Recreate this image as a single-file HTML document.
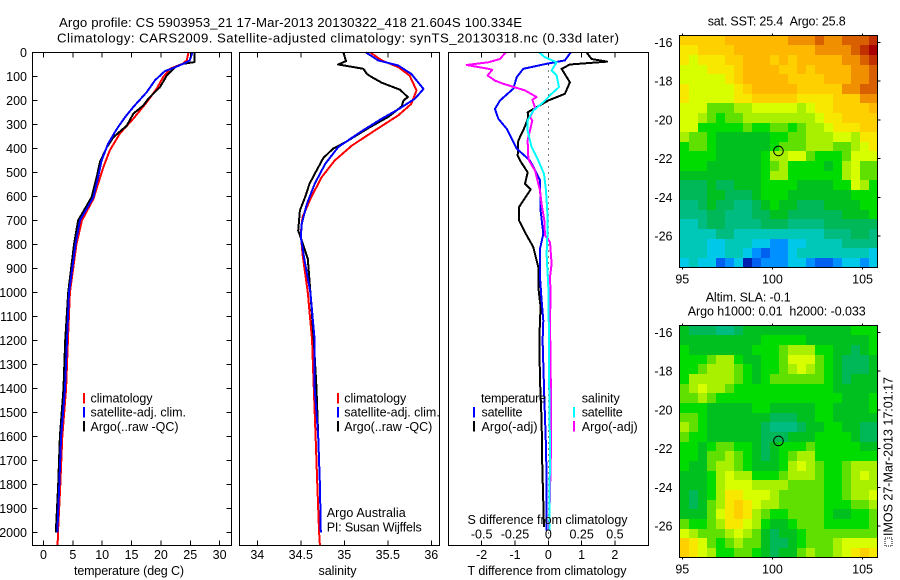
<!DOCTYPE html>
<html lang="en">
<head>
<meta charset="utf-8">
<title>Argo profile chart</title>
<style>
html,body{margin:0;padding:0;background:#fff;}
svg{display:block;}
text{font-family:"Liberation Sans",sans-serif;font-size:12.5px;fill:#000;}
.title{font-size:13.2px;}
rect{shape-rendering:crispEdges;}
</style>
</head>
<body>
<svg id="chart" width="900" height="580" viewBox="0 0 900 580" xmlns="http://www.w3.org/2000/svg">
  <rect x="0" y="0" width="900" height="580" fill="#fff"/>
  <g id="maps"></g>
  <g id="series"></g>
  <g id="axes"></g>

  <text class="title" x="59" y="27" textLength="463">Argo profile: CS 5903953_21 17-Mar-2013 20130322_418 21.604S 100.334E</text>
  <text class="title" x="57" y="42.5" textLength="562">Climatology: CARS2009. Satellite-adjusted climatology: synTS_20130318.nc (0.33d later)</text>

  <text x="74" y="575" textLength="110">temperature (deg C)</text>
  <text x="318.5" y="575" textLength="38">salinity</text>
  <text x="467.5" y="575" textLength="159">T difference from climatology</text>
  <text x="467.5" y="524" textLength="160">S difference from climatology</text>

  <g>
    <rect x="83" y="393" width="2" height="10.5" fill="#ff0000"/>
    <rect x="83" y="407" width="2" height="10.5" fill="#0000ff"/>
    <rect x="83" y="421" width="2" height="10.5" fill="#000"/>
    <text x="90.5" y="402.5" textLength="62">climatology</text>
    <text x="90.5" y="416.5" textLength="95.5">satellite-adj. clim.</text>
    <text x="90.5" y="431" textLength="88">Argo(..raw -QC)</text>
  </g>
  <g>
    <rect x="337" y="393" width="2" height="10.5" fill="#ff0000"/>
    <rect x="337" y="407" width="2" height="10.5" fill="#0000ff"/>
    <rect x="337" y="421" width="2" height="10.5" fill="#000"/>
    <text x="344.3" y="402.5" textLength="62">climatology</text>
    <text x="344.3" y="416.5" textLength="95.5">satellite-adj. clim.</text>
    <text x="344.3" y="431" textLength="88">Argo(..raw -QC)</text>
  </g>
  <text x="326.7" y="517" textLength="79">Argo Australia</text>
  <text x="326.7" y="531.5" textLength="95">PI: Susan Wijffels</text>

  <g>
    <text x="481" y="402.5" textLength="65">temperature</text>
    <text x="481.5" y="416.5" textLength="41">satellite</text>
    <text x="481.5" y="431" textLength="56">Argo(-adj)</text>
    <rect x="473" y="407" width="2" height="10.5" fill="#0000ff"/>
    <rect x="473" y="421" width="2" height="10.5" fill="#000"/>
    <text x="581.7" y="402.5" textLength="38">salinity</text>
    <text x="581.7" y="416.5" textLength="41">satellite</text>
    <text x="581.7" y="431" textLength="56">Argo(-adj)</text>
    <rect x="573" y="407" width="2" height="10.5" fill="#00ffff"/>
    <rect x="573" y="421" width="2" height="10.5" fill="#ff00ff"/>
  </g>

  <text x="707.7" y="25.7" textLength="138">sat. SST: 25.4&#160;&#160;Argo: 25.8</text>
  <text x="705.7" y="301.7" textLength="85">Altim. SLA: -0.1</text>
  <text x="687.7" y="315.7" textLength="178">Argo h1000: 0.01&#160;&#160;h2000: -0.033</text>

  <rect x="885" y="538" width="7" height="8" fill="none" stroke="#000" stroke-width="1" stroke-dasharray="1 1"/>
  <text transform="translate(892.5,536) rotate(-90)" x="0" y="0" textLength="159">IMOS 27-Mar-2013 17:01:17</text>

  <script>
  // ---------- shared tick values ----------
  var depthTicks = [0,100,200,300,400,500,600,700,800,900,1000,1100,1200,1300,1400,1500,1600,1700,1800,1900,2000];
  var tempTicks = [0,5,10,15,20,25,30];
  var salTicks = [34,34.5,35,35.5,36];
  var tDiffTicks = [-2,-1,0,1,2];
  var sDiffTicks = [-0.5,-0.25,0,0.25,0.5];
  var lonTicks = [95,100,105];
  var latTicks = [-16,-18,-20,-22,-24,-26];
  var argoLon = 100.334;
  var argoLat = -21.604;

  // ---------- temperature panel ----------
  var tempClimDepth = [0,33,47,68,102,150,207,276,338,408,477,547,610,700,800,1000,1200,1400,1600,1800,2000,2054];
  var tempClim = [24.7,24.4,23.7,21.55,20.4,19.3,17.6,15.3,13.0,11.3,10.2,9.3,8.5,6.55,5.6,4.5,4.15,3.85,3.2,2.87,2.47,2.4];
  var tempArgoDepth = [0,40,47,61,96,144,193,221,255,304,353,394,457,519,603,700,800,1000,1200,1400,1600,1800,2000];
  var tempArgo = [25.7,25.7,23.8,22.4,21.0,19.85,17.85,17.0,15.3,14.2,11.9,10.8,9.6,9.06,8.2,5.9,5.2,4.2,3.7,3.4,2.8,2.5,2.1];
  var tempSatDepth = [0,33,47,65,77,116,165,227,269,318,380,450,519,603,700,800,1000,1200,1400,1600,1800,2000];
  var tempSat = [25.35,24.9,23.8,22.1,20.7,19.0,17.6,15.3,13.9,12.5,11.0,9.9,9.3,8.5,6.2,5.45,4.35,4.0,3.66,3.0,2.7,2.35];

  // ---------- salinity panel ----------
  var salClimDepth = [0,33,61,96,158,214,262,325,387,450,519,603,686,755,839,1000,1200,1400,1600,1800,2000,2054];
  var salClim = [35.30,35.43,35.62,35.75,35.83,35.77,35.62,35.35,35.09,34.89,34.74,34.62,34.52,34.50,34.52,34.58,34.63,34.65,34.67,34.69,34.71,34.72];
  var salArgoDepth = [0,36,50,58,68,89,99,126,155,186,200,224,267,314,374,401,439,492,547,603,658,742,783,860,1000,1200,1400,1600,1800,2000];
  var salArgo = [34.99,35.02,34.93,35.06,35.22,35.26,35.30,35.43,35.64,35.73,35.68,35.66,35.51,35.28,35.01,34.87,34.76,34.68,34.60,34.55,34.49,34.47,34.51,34.58,34.61,34.65,34.68,34.70,34.72,34.73];
  var salSatDepth = [0,33,54,89,152,193,237,276,328,394,464,547,631,714,769,860,1000,1200,1400,1600,1800,2000];
  var salSat = [35.25,35.39,35.62,35.77,35.91,35.81,35.62,35.43,35.20,34.93,34.78,34.66,34.57,34.51,34.50,34.54,34.61,34.66,34.66,34.70,34.72,34.73];

  // ---------- difference panel ----------
  var dTempSatDepth = [0,33,47,68,103,151,200,235,276,318,401,450,533,658,756,818,936,1033,1117,1200,1436,1644,1783,1992];
  var dTempSat = [0.67,0.5,-0.05,-0.75,-0.95,-1.05,-1.45,-1.6,-1.5,-1.25,-0.95,-0.55,-0.25,-0.23,-0.15,-0.25,-0.25,-0.2,-0.15,-0.17,-0.12,-0.07,-0.05,-0.05];
  var dTempArgoDepth = [0,27,38,50,68,124,172,200,228,249,269,308,367,429,450,499,547,571,644,700,749,811,894,978,1061,1117,1200,1367,1533,1728,1978];
  var dTempArgo = [1.15,1.3,1.77,0.65,0.4,0.65,0.5,0,-0.35,-0.62,-0.6,-0.7,-0.9,-0.92,-0.85,-0.62,-0.7,-0.53,-0.88,-0.88,-0.7,-0.45,-0.3,-0.3,-0.23,-0.25,-0.27,-0.25,-0.2,-0.18,-0.13];
  var dSalArgoDepth = [0,27,41,52,68,72,96,117,130,158,186,197,228,269,283,325,367,436,450,492,575,631,700,762,790,881,936,1006,1117,1436,1644,1839,1992];
  var dSalArgo = [-0.32,-0.3625,-0.45,-0.6125,-0.45,-0.42,-0.455,-0.4,-0.34,-0.175,-0.0875,-0.12,-0.1,-0.1375,-0.12,-0.1375,-0.155,-0.15,-0.145,-0.1,-0.0625,-0.05,-0.03,-0.025,0.0125,0.025,0.0125,0.0175,0.0125,0.02,0.02,0.0125,0.005];
  var dSalSatDepth = [0,20,41,75,96,144,172,207,242,283,325,394,450,506,575,686,769,839,978,1200,1436,1644,1992];
  var dSalSat = [-0.0675,-0.025,0.0625,0.025,0.0625,0.08,0.025,-0.0375,-0.1125,-0.155,-0.155,-0.125,-0.075,-0.0325,-0.0175,-0.005,-0.0075,-0.0125,0,0.005,0.0075,0.0125,0.0075];

  // ---------- map grids (colour-scale level per cell, north to south, west to east) ----------
  var sstRows = [
    [13,13,13,13,13,14,14,14,14,14,14,14,15,15,15,16,15,15,16,16,16,17],
    [12,12,13,13,13,13,14,14,14,14,14,14,14,14,14,15,15,15,15,16,17,18],
    [12,11,12,12,12,13,13,14,14,14,13,14,13,14,14,14,14,14,15,15,16,17],
    [11,11,11,12,12,12,13,14,14,14,14,13,13,14,13,14,14,14,14,15,15,16],
    [11,11,11,11,11,12,13,14,14,14,14,14,13,13,13,13,14,14,14,15,15,16],
    [12,11,11,11,11,11,12,13,14,14,14,14,14,13,13,13,13,13,15,15,16,16],
    [12,11,11,11,11,11,12,12,13,13,13,13,13,12,12,12,12,13,13,13,15,15],
    [11,11,11,9,9,9,10,10,11,11,11,11,11,10,11,12,12,13,13,13,13,14],
    [11,11,10,9,8,9,9,10,10,10,10,10,10,10,10,11,12,12,13,13,13,13],
    [11,11,8,8,8,8,8,9,8,8,9,9,8,9,10,10,11,12,12,12,13,13],
    [10,9,9,8,7,7,7,7,7,7,8,8,9,9,10,10,10,11,11,10,12,12],
    [8,9,9,8,7,7,7,7,7,7,8,9,9,9,10,10,10,9,9,10,11,12],
    [8,8,8,8,7,7,7,7,7,8,10,10,11,11,9,8,8,8,9,11,11,11],
    [8,8,8,7,7,7,7,7,7,8,9,10,8,8,8,8,7,8,10,11,9,9],
    [7,7,7,7,7,7,7,7,7,8,10,10,8,8,8,8,8,8,10,11,9,9],
    [6,6,6,7,6,6,7,7,7,8,8,8,8,7,7,7,7,8,8,11,10,8],
    [6,6,6,7,7,6,6,6,7,8,8,8,7,7,7,7,7,7,7,8,8,8],
    [5,5,6,7,6,6,5,5,6,7,8,7,7,6,6,6,7,7,7,7,8,8],
    [5,5,5,6,6,5,5,5,6,6,7,7,6,6,6,6,6,6,7,7,7,8],
    [4,4,5,6,6,5,5,5,5,6,6,6,5,5,5,5,6,6,6,6,6,6],
    [4,4,4,4,5,5,4,4,4,4,4,4,4,4,4,4,5,5,5,6,6,5],
    [4,4,4,3,3,4,4,4,3,3,2,2,3,3,4,4,4,4,5,5,5,5],
    [4,4,4,3,3,4,4,3,2,1,2,2,3,4,4,4,4,4,4,4,4,3],
    [3,4,3,3,1,2,3,0,1,2,2,2,3,3,2,1,1,2,3,3,2,3]
  ];
  var slaRows = [
    [7,6,6,6,5,5,6,7,7,7,7,7,7,7,7,7,7,7,7,8,8,8],
    [7,7,7,7,7,7,7,7,7,8,8,8,8,8,7,7,7,7,7,7,7,8],
    [8,7,7,7,7,7,7,7,8,8,8,9,10,10,10,8,8,7,7,6,7,8],
    [8,8,8,9,10,10,8,7,7,8,8,9,11,11,11,9,8,7,6,6,6,7],
    [8,8,9,10,10,10,9,8,7,8,8,9,10,11,10,9,8,7,6,6,6,7],
    [8,10,10,10,10,10,9,8,7,8,9,9,9,9,9,9,8,7,6,7,7,7],
    [9,10,11,10,10,9,8,8,8,8,8,8,8,8,8,8,8,7,7,7,7,7],
    [9,9,10,9,8,8,8,8,8,8,8,8,8,8,8,8,8,8,7,7,7,8],
    [8,8,8,7,7,7,7,7,8,8,7,7,7,7,7,8,8,7,7,7,7,8],
    [9,9,8,7,7,7,7,7,7,7,6,6,6,7,7,8,8,7,7,7,7,7],
    [10,9,8,7,7,7,7,7,7,6,5,5,5,6,7,7,8,8,7,7,6,6],
    [9,8,8,7,7,7,7,7,7,6,6,6,7,7,7,8,8,8,8,7,6,6],
    [8,8,7,8,9,9,8,8,7,6,7,8,8,8,9,8,8,8,8,8,7,7],
    [8,8,7,9,9,10,9,8,7,6,7,8,9,10,10,8,8,8,8,8,8,8],
    [8,7,7,9,10,10,9,8,7,7,7,8,10,11,10,9,8,8,9,10,10,10],
    [7,7,7,8,10,11,10,10,8,8,8,9,10,10,10,9,8,8,9,10,11,10],
    [7,7,7,8,10,11,11,11,10,10,10,10,9,9,9,9,8,8,9,10,10,10],
    [7,6,7,8,10,12,12,11,11,11,10,9,9,9,9,9,8,8,9,10,10,11],
    [7,6,7,9,10,12,13,12,11,10,10,9,9,9,9,9,8,8,8,9,9,10],
    [7,7,7,9,11,12,13,12,10,9,8,8,9,9,9,9,8,7,7,8,8,9],
    [9,8,8,9,10,12,12,11,10,8,7,7,8,9,9,9,8,8,8,8,8,9],
    [11,10,9,9,9,10,11,10,9,7,6,7,7,8,9,9,9,9,9,9,9,9],
    [13,12,11,9,8,9,10,9,9,7,6,6,7,8,9,9,9,10,11,11,11,11],
    [13,12,11,10,8,8,9,9,8,7,6,7,7,9,10,9,9,10,11,12,13,12]
  ];
  var colourScale = ["#0020b0","#0060f0","#0090ff","#00c8e8","#00c8b8","#00bc80","#00b858","#00c020","#00dc00","#60e000","#a8f000","#d8ff00","#f8e800","#ffd000","#ffb800","#f09000","#d86000","#c03000","#a80000"];

  // ---------- scales ----------
  var NS = "http://www.w3.org/2000/svg";
  var PANEL_TOP = 52.5, PANEL_BOTTOM = 545.5;
  function depthY(d){ return 52.5 + d * 0.24; }
  function tempX(t){ return 43.5 + t * 5.87; }
  function salX(s){ return 257.3 + (s - 34) * 87; }
  function tDiffX(t){ return 548.3 + t * 33.3; }
  function sDiffX(s){ return 548.3 + s * 133.3; }
  function mapX(lon){ return 682.3 + (lon - 95) * 18.03; }
  function mapY(lat, top){ return top + 7 + (-16 - lat) * 19.35; }

  var seriesLayer = document.getElementById("series");
  var axesLayer = document.getElementById("axes");
  var mapLayer = document.getElementById("maps");

  function make(tag, parent, name){
    var el = document.createElementNS(NS, tag);
    
    
    parent.appendChild(el);
    return el;
  }
  function drawLine(x1,y1,x2,y2,name){
    var l = make("line", axesLayer, name);
    l.setAttribute("x1",x1); l.setAttribute("y1",y1);
    l.setAttribute("x2",x2); l.setAttribute("y2",y2);
    l.setAttribute("stroke","#000"); l.setAttribute("stroke-width","1");
    l.setAttribute("shape-rendering","crispEdges");
    return l;
  }
  function drawText(x,y,str,anchor,name){
    var t = make("text", axesLayer, name);
    t.setAttribute("x",x); t.setAttribute("y",y);
    t.setAttribute("text-anchor",anchor);
    t.textContent = str;
    return t;
  }
  function drawProfile(depths, values, xFn, colour, name){
    var p = make("polyline", seriesLayer, name);
    var pts = [];
    for (var i = 0; i < depths.length; i++) {
      pts.push(xFn(values[i]).toFixed(1) + "," + depthY(depths[i]).toFixed(1));
    }
    p.setAttribute("points", pts.join(" "));
    p.setAttribute("fill","none");
    p.setAttribute("stroke",colour);
    p.setAttribute("stroke-width","2");
    p.setAttribute("stroke-linejoin","round");
    p.setAttribute("shape-rendering","crispEdges");
  }
  function drawBox(l,t,r,b,name){
    var rect = make("rect", axesLayer, name);
    rect.setAttribute("x",l); rect.setAttribute("y",t);
    rect.setAttribute("width",r-l); rect.setAttribute("height",b-t);
    rect.setAttribute("fill","none"); rect.setAttribute("stroke","#000");
    rect.setAttribute("stroke-width","1");
  }
  function xTicks(ticks, xFn, labelY, name){
    ticks.forEach(function(v){
      var x = xFn(v);
      drawLine(x,PANEL_TOP,x,PANEL_TOP+5,name+"-top-tick");
      drawLine(x,PANEL_BOTTOM,x,PANEL_BOTTOM-5,name+"-bottom-tick");
      if (labelY) drawText(x,labelY,String(v),"middle",name+"-tick-label");
    });
  }

  // ---------- profile panels ----------
  drawProfile(tempClimDepth,tempClim,tempX,"#ff0000","temperature-climatology-line");
  drawProfile(tempArgoDepth,tempArgo,tempX,"#000000","temperature-argo-line");
  drawProfile(tempSatDepth,tempSat,tempX,"#0000ff","temperature-satellite-line");

  drawProfile(salClimDepth,salClim,salX,"#ff0000","salinity-climatology-line");
  drawProfile(salArgoDepth,salArgo,salX,"#000000","salinity-argo-line");
  drawProfile(salSatDepth,salSat,salX,"#0000ff","salinity-satellite-line");

  var zeroLine = make("line", seriesLayer, "zero-difference-line");
  zeroLine.setAttribute("x1",tDiffX(0)); zeroLine.setAttribute("x2",tDiffX(0));
  zeroLine.setAttribute("y1",PANEL_TOP); zeroLine.setAttribute("y2",PANEL_BOTTOM);
  zeroLine.setAttribute("stroke","#000"); zeroLine.setAttribute("stroke-dasharray","1 5");
  zeroLine.setAttribute("shape-rendering","crispEdges");

  drawProfile(dTempArgoDepth,dTempArgo,tDiffX,"#000000","t-difference-argo-line");
  drawProfile(dTempSatDepth,dTempSat,tDiffX,"#0000ff","t-difference-satellite-line");
  drawProfile(dSalArgoDepth,dSalArgo,sDiffX,"#ff00ff","s-difference-argo-line");
  drawProfile(dSalSatDepth,dSalSat,sDiffX,"#00ffff","s-difference-satellite-line");

  // ---------- axes ----------
  drawBox(32.5,PANEL_TOP,231.5,PANEL_BOTTOM,"temperature-panel-frame");
  drawBox(239.5,PANEL_TOP,439.5,PANEL_BOTTOM,"salinity-panel-frame");
  drawBox(448.5,PANEL_TOP,648.5,PANEL_BOTTOM,"difference-panel-frame");

  depthTicks.forEach(function(d){
    var y = depthY(d);
    drawLine(32.5,y,37.5,y,"depth-left-tick");
    drawLine(231.5,y,226.5,y,"depth-right-tick");
    drawText(27,y+4.5,String(d),"end","depth-tick-label");
  });
  xTicks(tempTicks,tempX,559,"temperature");
  xTicks(salTicks,salX,559,"salinity");
  xTicks(tDiffTicks,tDiffX,559,"t-difference");
  sDiffTicks.forEach(function(v){
    drawText(sDiffX(v),538.5,String(v),"middle","s-difference-tick-label");
  });

  // ---------- maps ----------
  var MAP_LEFT = 679.5, MAP_RIGHT = 877.5, MAP_HEIGHT = 232;
  function drawMap(rows, top, labelY, name){
    var nRows = rows.length, nCols = rows[0].length;
    var lonStart = 95 + (MAP_LEFT - 682.3) / 18.03;
    var lonStep = (MAP_RIGHT - MAP_LEFT) / 18.03 / nCols;
    var latStep = MAP_HEIGHT / 19.35 / nRows;
    var latStart = -16 + 7 / 19.35;
    rows.forEach(function(row, r){
      row.forEach(function(level, c){
        var cell = make("rect", mapLayer, name + "-cell");
        var x0 = Math.round(mapX(lonStart + c * lonStep));
        var x1 = Math.round(mapX(lonStart + (c + 1) * lonStep));
        var y0 = Math.round(mapY(latStart - r * latStep, top));
        var y1 = Math.round(mapY(latStart - (r + 1) * latStep, top));
        cell.setAttribute("x", x0);
        cell.setAttribute("y", y0);
        cell.setAttribute("width", x1 - x0);
        cell.setAttribute("height", y1 - y0);
        cell.setAttribute("fill", colourScale[level]);
      });
    });
    drawBox(MAP_LEFT, top, MAP_RIGHT, top + MAP_HEIGHT, name + "-frame");
    lonTicks.forEach(function(lon){
      var x = mapX(lon);
      drawLine(x, top, x, top - 2, name + "-top-tick");
      drawLine(x, top + MAP_HEIGHT, x, top + MAP_HEIGHT + 2, name + "-bottom-tick");
      drawText(x, labelY, String(lon), "middle", name + "-lon-label");
    });
    latTicks.forEach(function(lat){
      var y = mapY(lat, top);
      drawLine(MAP_RIGHT, y, MAP_RIGHT + 3, y, name + "-right-tick");
      drawText(672.5, y + 4.5, String(lat), "end", name + "-lat-label");
    });
    var marker = make("circle", axesLayer, name + "-argo-marker");
    marker.setAttribute("cx", mapX(argoLon));
    marker.setAttribute("cy", mapY(argoLat, top));
    marker.setAttribute("r", "4.8");
    marker.setAttribute("fill", "none");
    marker.setAttribute("stroke", "#000");
    marker.setAttribute("stroke-width", "1");
  }
  drawMap(sstRows, 35.5, 283.5, "sst-map");
  drawMap(slaRows, 325.5, 573.5, "sla-map");
  </script>
</svg>
</body>
</html>
